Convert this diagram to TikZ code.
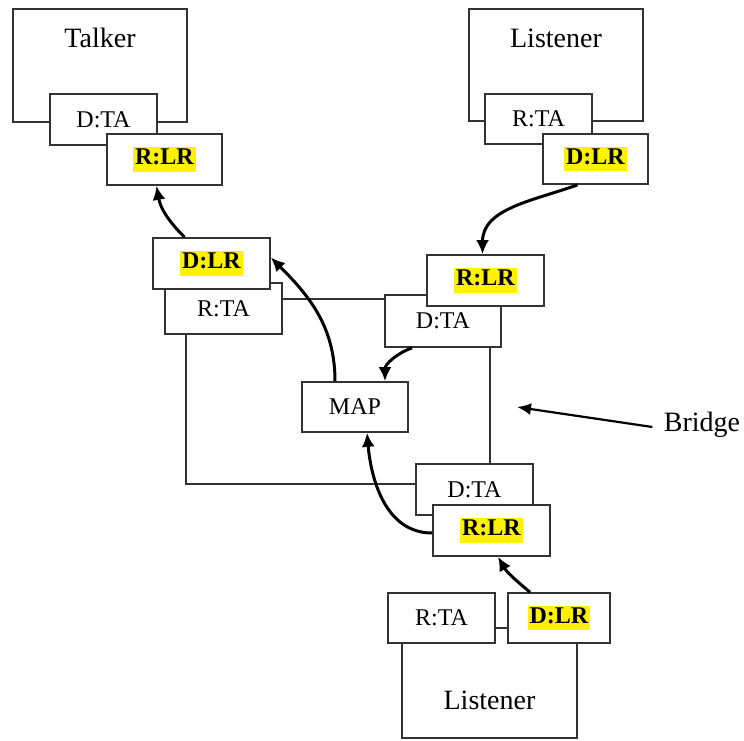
\documentclass[tikz,border=0pt]{standalone}
\usepackage{fontspec}
\setmainfont{Liberation Serif}
\usepackage{xcolor}
\usetikzlibrary{arrows, arrows.meta}
\newcommand{\hlt}[1]{{\setlength{\fboxsep}{2pt}\colorbox{yellow}{\vphantom{Lg}\textbf{#1}}}}

\tikzset{
port/.style={draw, fill=white, line width=1.7pt, draw=black!80, minimum width=117pt, minimum height=51pt, inner sep=0pt, font=\fontsize{24}{28}\selectfont},
host/.style={draw, draw=black!80, line width=1.7pt, minimum width=174pt, inner sep=0pt},
txt/.style={font=\fontsize{28}{32}\selectfont},
flow/.style={line width=3pt, -{Latex[length=14pt,width=13pt]}},
wire/.style={line width=1.3pt, black!80},
}

\begin{document}
\begin{tikzpicture}[x=1pt,y=-1pt]
\useasboundingbox (0,0) rectangle (744,740);
% talker, top left
\node[host, minimum height=113pt] (talker) at (100,65.5) {};
\node[txt] (talkertxt) at (100,38) {Talker};
\node[port, minimum width=107pt] (tDTA) at (103.5,119.5) {D:TA};
\node[port, minimum width=115pt] (tRLR) at (164.5,159.5) {\hlt{R:LR}};
% listener, top right
\node[host, minimum height=112pt] (ltop) at (556,65) {};
\node[txt] (ltoptxt) at (556,38) {Listener};
\node[port, minimum width=107pt, minimum height=50pt] (lRTA) at (538.5,119) {R:TA};
\node[port, minimum width=105pt, minimum height=50pt] (lDLR) at (595.5,159) {\hlt{D:LR}};
% bridge
\node[port] (mRTA) at (223.5,308.5) {R:TA};
\node[port] (mDLR) at (211.5,263.5) {\hlt{D:LR}};
\node[port, minimum width=116pt, minimum height=52pt] (mDTA) at (443,321) {D:TA};
\node[port] (mRLR) at (485.5,280.5) {\hlt{R:LR}};
\node[port, minimum width=106pt, minimum height=50pt] (map) at (355,407) {MAP};
\node[port] (bDTA) at (474.5,489.5) {D:TA};
\node[port] (bRLR) at (491.5,530.5) {\hlt{R:LR}};
% listener, bottom
\node[host, minimum width=175pt, minimum height=110pt] (lbot) at (489.5,683) {};
\node[txt] (lbottxt) at (489.5,700) {Listener};
\node[port, minimum width=107pt, minimum height=50pt] (bRTA) at (441.5,618) {R:TA};
\node[port, minimum width=102pt, minimum height=50pt] (bDLR) at (559,618) {\hlt{D:LR}};
\node[txt] (bridgetxt) at (702,425) {Bridge};
\coordinate (bridgept) at (517,407);

\draw[wire] ([yshift=9.5pt]mRTA.east) -- ([yshift=22pt]mDTA.west);
\draw[wire] ([xshift=-37.5pt]mRTA.south) |- ([yshift=5.5pt]bDTA.west);
\draw[wire] ([xshift=47pt]mDTA.south) -- ([xshift=15.5pt]bDTA.north);

\draw[flow] ([xshift=-27pt]mDLR.north) to[out=135,in=-80] ([xshift=-8pt]tRLR.south);
\draw[flow] ([xshift=-18pt]lDLR.south) to[out=200,in=90] ([xshift=-3pt]mRLR.north);
\draw[flow] ([xshift=-20pt]map.north) to[out=90,in=-45] ([yshift=6pt]mDLR.east);
\draw[flow] ([xshift=-31pt]mDTA.south) to[out=200,in=90] ([xshift=30pt]map.north);
\draw[flow] ([yshift=-2.5pt]bRLR.west) to[out=180,in=-85] ([xshift=12pt]map.south);
\draw[flow] ([xshift=-29pt]bDLR.north) to[out=140,in=-60] ([xshift=6.5pt]bRLR.south);
\draw[line width=2.2pt, -{Latex[length=14pt,width=12pt]}] ([xshift=-8pt,yshift=-2pt]bridgetxt.west) -- (bridgept);
\end{tikzpicture}
\end{document}
